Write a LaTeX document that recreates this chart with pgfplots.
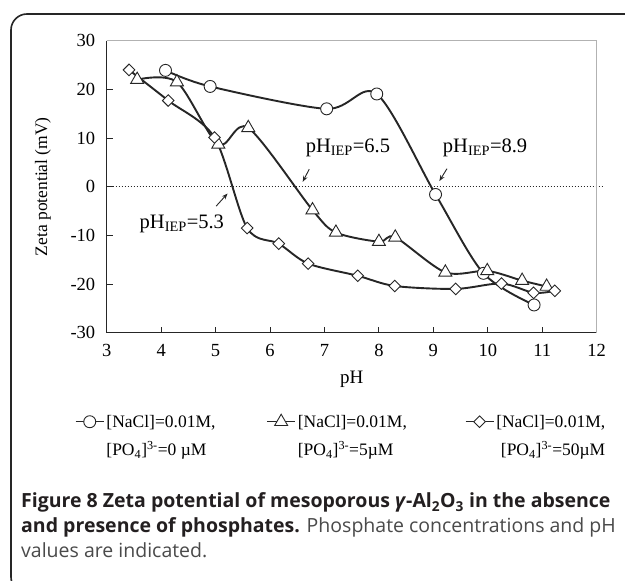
\documentclass[border=0pt]{standalone}
\usepackage{fontspec}
\setmainfont{Liberation Serif}
\newfontfamily\capfont{Open Sans}
\usepackage{pgfplots}
\pgfplotsset{compat=1.18}
\usetikzlibrary{arrows.meta}
\definecolor{ln}{HTML}{262626}
\definecolor{capbold}{HTML}{231F20}
\definecolor{capreg}{HTML}{4A4A4A}
\begin{document}
\begin{tikzpicture}[x=1bp,y=1bp]
\useasboundingbox (0,0) rectangle (625,581);
\fill[white] (0,0) rectangle (625,581);
\draw[line width=1.6bp, color=black!85, rounded corners=16bp] (11,-12) rectangle (660,567);
\begin{axis}[
  at={(106.7bp,248.3bp)}, anchor=south west,
  scale only axis, width=490bp, height=292bp,
  xmin=3, xmax=12, ymin=-30, ymax=30,
  xtick={3,4,...,12}, xticklabels={3,4,5,6,7,8,9,10,11,12},
  ytick={-30,-20,...,30}, yticklabels={-30,-20,-10,0,10,20,30},
  axis x line*=bottom, axis y line*=left, tick pos=left,
  axis line style={-, line width=1.1bp, color=ln},
  tick align=inside, major tick length=6bp,
  tick style={line width=1bp, color=ln},
  tick label style={font=\fontsize{18.5bp}{20bp}\selectfont},
  xticklabel style={yshift=-8bp},
  yticklabel style={xshift=-8bp},
  xlabel={pH}, ylabel={Zeta potential (mV)},
  label style={font=\fontsize{17.5bp}{20bp}\selectfont},
  xlabel style={at={(axis description cs:0.5,-0.158)}, anchor=center, font=\fontsize{19bp}{20bp}\selectfont},
  ylabel style={at={(axis description cs:-0.13,0.5)}, anchor=center},
  clip=false,
  legend columns=3,
  legend style={at={(axis description cs:-0.065,-0.251)}, anchor=north west, draw=none, fill=none,
    font=\fontsize{17.5bp}{28bp}\selectfont, inner sep=0pt,
    /tikz/column 2/.style={column sep=49bp},
    /tikz/column 4/.style={column sep=56bp}},
  legend image code/.code={\draw[#1, line width=1.4bp, mark repeat=2, mark phase=2] plot coordinates {(0bp,-3bp)(14bp,-3bp)(28bp,-3bp)};},
  every axis plot/.append style={line width=1.9bp, color=ln},
  after end axis/.code={\draw[black!30, line width=1bp] (rel axis cs:0,1) -- (rel axis cs:1,1) -- (rel axis cs:1,0);},
]
\addplot[line width=0.7bp, dash pattern=on 1.6bp off 1.4bp, color=ln, forget plot] coordinates {(3,0) (12.1,0)};

\addplot[smooth, mark=*, mark size=6bp, mark options={fill=white, draw=black!85, line width=0.9bp}]
  coordinates {(4.08,23.9) (4.90,20.6) (7.04,16.0) (7.96,19.05) (9.04,-1.6) (9.92,-17.8) (10.85,-24.3)};
\addlegendentry{\begin{tabular}[t]{@{}l@{}}[NaCl]=0.01M,\\{}[PO\textsubscript{4}]\textsuperscript{3-}=0 µM\end{tabular}}

\addplot[smooth, mark=triangle*, mark size=7.5bp, mark options={fill=white, draw=black!85, line width=0.9bp}]
  coordinates {(3.56,22.0) (4.29,21.5) (5.05,8.7) (5.60,12.1) (6.78,-4.8) (7.21,-9.4) (8.0,-11.3) (8.30,-10.4) (9.22,-17.6) (9.99,-17.3) (10.63,-19.3) (11.08,-20.5)};
\addlegendentry{\begin{tabular}[t]{@{}l@{}}[NaCl]=0.01M,\\{}[PO\textsubscript{4}]\textsuperscript{3-}=5µM\end{tabular}}

\addplot[smooth, mark=square*, mark size=4.1bp, mark options={rotate=45, fill=white, draw=black!85, line width=0.9bp}]
  coordinates {(3.41,24.0) (4.13,17.7) (4.98,10.1) (5.58,-8.5) (6.16,-11.7) (6.70,-15.8) (7.61,-18.3) (8.29,-20.4) (9.41,-21.0) (10.25,-19.9) (10.84,-21.8) (11.23,-21.4)};
\addlegendentry{\begin{tabular}[t]{@{}r@{}}[NaCl]=0.01M,\\{}[PO\textsubscript{4}]\textsuperscript{3-}=50µM\end{tabular}}

\node[font=\fontsize{20.5bp}{22bp}\selectfont] at (axis cs:7.43,8.0) {pH\textsubscript{IEP}=6.5};
\node[font=\fontsize{20.5bp}{22bp}\selectfont] at (axis cs:9.95,8.0) {pH\textsubscript{IEP}=8.9};
\node[font=\fontsize{20.5bp}{22bp}\selectfont] at (axis cs:4.38,-7.7) {pH\textsubscript{IEP}=5.3};
\draw[-{Stealth[length=6bp,width=4.5bp]}, line width=0.9bp, ln] (axis cs:6.72,3.6) -- (axis cs:6.60,1.0);
\draw[-{Stealth[length=6bp,width=4.5bp]}, line width=0.9bp, ln] (axis cs:9.25,3.7) -- (axis cs:9.11,1.15);
\draw[-{Stealth[length=6bp,width=4.5bp]}, line width=0.9bp, ln] (axis cs:5.01,-4.0) -- (axis cs:5.22,-1.4);
\end{axis}
\begin{scope}[every node/.style={anchor=base west, inner sep=0pt}]
\node[font=\capfont\fontsize{19.5bp}{25bp}\selectfont, text=capbold] at (21,73) {\textbf{Figure 8 Zeta potential of mesoporous \textit{γ}-Al\textsubscript{2}O\textsubscript{3} in the absence}};
\node[font=\capfont\fontsize{19.5bp}{25bp}\selectfont, text=capreg] at (21,48) {\textcolor{capbold}{\textbf{and presence of phosphates.}} Phosphate concentrations and pH};
\node[font=\capfont\fontsize{19.5bp}{25bp}\selectfont, text=capreg] at (21,23) {values are indicated.};
\end{scope}
\end{tikzpicture}
\end{document}
